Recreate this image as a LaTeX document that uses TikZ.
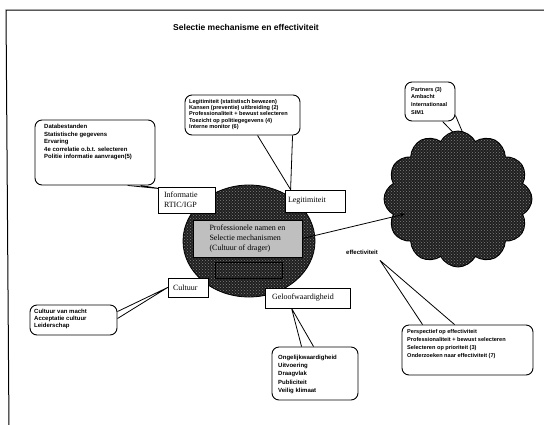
\documentclass[tikz,border=0pt]{standalone}
\usepackage{fontspec}
\setmainfont{Liberation Serif}
\setsansfont{Liberation Sans}
\usetikzlibrary{shapes.geometric,shapes.symbols,patterns,calc,arrows.meta,backgrounds}

\tikzset{
  frameline/.style={line width=1pt},
  heading/.style={font=\sffamily\bfseries\fontsize{8.5}{10}\selectfont},
  bubble/.style={draw, line width=0.9pt, fill=white, rounded corners=7pt, inner sep=0pt},
  bubbletext/.style 2 args={font=\sffamily\bfseries\fontsize{#1}{#2}\selectfont, align=left, anchor=north west, inner sep=0pt},
  tail/.style={line width=0.8pt, line join=round},
  labelbox/.style={draw, line width=0.8pt, fill=white, font=\fontsize{8}{10}\selectfont, align=left, inner ysep=0pt},
  grainy/.style={preaction={fill=black!88}, pattern=crosshatch dots, pattern color=black!50},
  smalltag/.style={font=\sffamily\bfseries\fontsize{6}{7}\selectfont, inner sep=0pt},
}

\begin{document}
\begin{tikzpicture}[x=1pt,y=-1pt]
\useasboundingbox (0,0) rectangle (544,424);

% outer frame (top and left edges)
\draw[frameline] (550,10) -- (6,10) -- (9,430);

% title
\node[heading] (title) at (246,27) {Selectie mechanisme en effectiviteit};

% central hub with its two inner panels
\node[ellipse, draw, line width=0.8pt, grainy, minimum width=132, minimum height=112] (hub) at (249,241) {};
\node[draw, line width=0.8pt, fill=black!25, minimum width=109, minimum height=37, inner sep=2pt,
      font=\fontsize{8}{10}\selectfont, align=left] (inner) at (247.5,238.5)
      {Professionele namen en\\Selectie mechanismen\\(Cultuur of drager)};
\node[draw, line width=0.8pt, grainy, minimum width=67, minimum height=16] (inner2) at (248.5,270) {};

% cloud
\node[cloud, cloud puffs=12, cloud puff arc=125, aspect=1.1, draw, line width=0.9pt, grainy,
      minimum width=148, minimum height=136] (cloud) at (458,199) {};
\coordinate (cloudin) at ($(cloud.center)+(-53,15)$);
\draw[line width=0.8pt, -{Stealth[length=5pt,width=4pt]}] (inner.east) -- (cloudin);

% label boxes around the hub
\node[labelbox, text width=45pt, inner xsep=6pt, minimum height=26] (inf) at (186.5,200) {Informatie\\RTIC/IGP};
\node[labelbox, text width=54pt, inner xsep=3pt, minimum height=22] (leg) at (315,201) {Legitimiteit};
\node[labelbox, text width=30pt, inner xsep=5pt, minimum height=19] (cul) at (188,287.5) {Cultuur};
\node[labelbox, text width=71pt, inner xsep=7pt, minimum height=20] (gez) at (307.5,298) {Geloofwaardigheid};
\node[smalltag] (eff) at (362,252) {effectiviteit};

% callout bubbles
\node[bubble, minimum width=120, minimum height=65] (b1) at (95,152.5) {};
\node[bubbletext={6}{7.5}] (t1) at (44,124) {Databestanden\\Statistische gegevens\\Ervaring\\4e correlatie o.b.t. selecteren\\Politie informatie aanvragen(5)};

\node[bubble, minimum width=115, minimum height=40] (b2) at (242.5,115) {};
\node[bubbletext={5.6}{6.3}] (t2) at (189,99) {Legitimiteit (statistisch bewezen)\\Kansen (preventie) uitbreiding (2)\\Professionaliteit + bewust selecteren\\Toezicht op politiegegevens (4)\\Interne monitor (6)};

\node[bubble, minimum width=50, minimum height=39] (b3) at (430,101.5) {};
\node[bubbletext={5.5}{7.7}] (t3) at (411,87) {Partners (3)\\Ambacht\\Internationaal\\SIM1};

\node[bubble, minimum width=87, minimum height=30] (b4) at (73.5,320) {};
\node[bubbletext={6}{6.8}] (t4) at (34,309) {Cultuur van macht\\Acceptatie cultuur\\Leiderschap};

\node[bubble, minimum width=86, minimum height=53] (b5) at (315,373.5) {};
\node[bubbletext={6}{8.2}] (t5) at (278,355) {Ongelijkwaardigheid\\Uitvoering\\Draagvlak\\Publiciteit\\Veilig klimaat};

\node[bubble, minimum width=131, minimum height=50] (b6) at (467.5,350) {};
\node[bubbletext={5.6}{8}] (t6) at (407,329) {Perspectief op effectiviteit\\Professionaliteit + bewust selecteren\\Selecteren op prioriteit (3)\\Onderzoeken naar effectiviteit (7)};

% pointers of the bubbles, kept behind everything
\begin{scope}[on background layer]
  \draw[tail] ($(b1.south west)+(93,0)$) -- ($(inf.north west)+(2,2)$) -- ($(b1.south west)+(106,0)$);
  \draw[tail] ($(b2.south west)+(73,0)$) -- ($(leg.north west)+(6,0)$) -- ($(b2.south west)+(108,0)$);
  \draw[tail] ($(b3.south west)+(38,0)$) -- ($(cloud.center)+(12,-49)$) -- ($(b3.south east)+(0,-6)$);
  \draw[tail] ($(b4.north east)+(0,7)$) -- (cul.west) -- ($(b4.north east)+(0,14)$);
  \draw[tail] ($(b5.north west)+(30,0)$) -- ($(gez.south west)+(27,0)$) -- ($(b5.north west)+(42,0)$);
  \draw[tail] ($(b6.north west)+(21,0)$) -- ($(eff.south east)+(2,6)$) -- ($(b6.north west)+(53,0)$);
\end{scope}
\end{tikzpicture}
\end{document}
